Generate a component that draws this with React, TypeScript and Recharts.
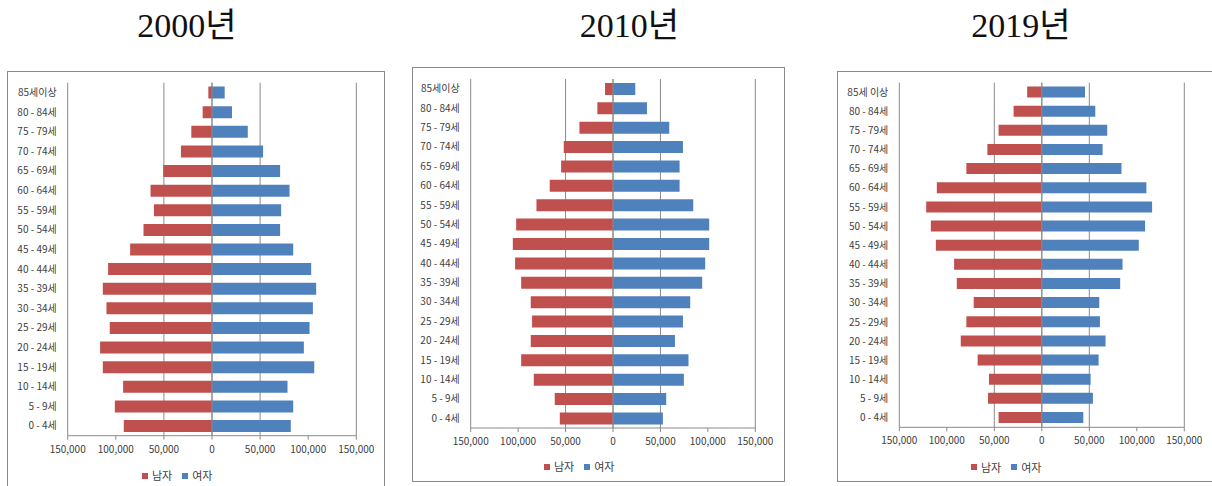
import { Bar, BarChart, CartesianGrid, Legend, ReferenceLine, XAxis, YAxis } from "recharts";

// age groups, top of the pyramid first
const ageGroups = [
  "85세이상", "80 - 84세", "75 - 79세", "70 - 74세", "65 - 69세", "60 - 64세",
  "55 - 59세", "50 - 54세", "45 - 49세", "40 - 44세", "35 - 39세", "30 - 34세",
  "25 - 29세", "20 - 24세", "15 - 19세", "10 - 14세", "5 - 9세", "0 - 4세",
];
const ageGroups2019 = [
  "85세 이상", "80 - 84세", "75 - 79세", "70 - 74세", "65 - 69세", "60 - 64세",
  "55 - 59세", "50 - 54세", "45 - 49세", "40 - 44세", "35 - 39세", "30 - 34세",
  "25 - 29세", "20 - 24세", "15 - 19세", "10 - 14세", "5 - 9세", "0 - 4세",
];

const male2000 = [3800, 9700, 21500, 32300, 50700, 63900, 60400, 71200, 85100, 108000, 113500, 109700, 106300, 116300, 113500, 92400, 101000, 91700];
const female2000 = [13200, 20800, 37200, 53100, 70800, 80600, 71900, 70800, 84400, 103100, 108300, 104900, 101400, 95500, 106300, 78500, 84400, 81900];

const male2010 = [8400, 16500, 35400, 51900, 54700, 66700, 80700, 102100, 105600, 103200, 96800, 86700, 85300, 86700, 96800, 83500, 61400, 56100];
const female2010 = [23500, 35800, 59300, 73700, 70200, 70200, 84600, 101400, 101400, 97200, 94000, 81400, 73700, 65300, 79600, 74700, 56100, 52600];

const male2019 = [15400, 29700, 45500, 57300, 79400, 110500, 121700, 116800, 111500, 92300, 89500, 71700, 79400, 85300, 67500, 55600, 56600, 45500];
const female2019 = [45500, 56300, 68900, 64000, 83900, 110100, 116100, 108700, 102100, 85000, 82500, 60500, 61200, 67100, 59800, 51400, 53800, 43700];

const xTicks = [-150000, -100000, -50000, 0, 50000, 100000, 150000];

const MALE = "#C0504D";
const FEMALE = "#4F81BD";
const GRID = "#8a8a8a";
const TEXT = "#404040";
const FONT = "'Noto Sans CJK KR', 'Noto Sans', sans-serif";
const LEGEND_H = 16;

type Rect = { left: number; top: number; width: number; height: number };
type Plot = { left: number; right: number; top: number; bottom: number };

const buildRows = (labels: string[], male: number[], female: number[]) =>
  labels.map((age, i) => ({ age, male: -male[i], female: female[i] }));

const fmt = (v: number) => Math.abs(v).toLocaleString("en-US");

// plain single-line category label (the default tick wraps at spaces)
const AgeTick = (props: any) => {
  const { x, y, payload } = props;
  return (
    <text x={x} y={y} dy="0.35em" textAnchor="end" fill={TEXT} fontSize={10}>
      {payload.value}
    </text>
  );
};

type PyramidProps = {
  title: string;
  titleX: number;
  box: Rect;
  plot: Plot;
  legendY: number;
  rows: { age: string; male: number; female: number }[];
};

const Pyramid = ({ title, titleX, box, plot, legendY, rows }: PyramidProps) => {
  // chart sits inside a 1px border
  const ix = box.left + 1;
  const iy = box.top + 1;
  const w = box.width - 2;
  const h = box.height - 2;
  const marginBottom = iy + h - (legendY + LEGEND_H / 2);
  const axisH = legendY - LEGEND_H / 2 - plot.bottom;

  return (
    <>
      <div
        style={{
          position: "absolute",
          left: titleX - 150,
          width: 300,
          top: 6,
          lineHeight: "40px",
          textAlign: "center",
          fontFamily: "'Liberation Serif', 'Noto Sans CJK KR', serif",
          fontSize: 34,
          color: "#111",
        }}
      >
        {title}
      </div>
      <div
        style={{
          position: "absolute",
          left: box.left,
          top: box.top,
          width: w,
          height: h,
          border: `1px solid ${GRID}`,
          background: "#fff",
        }}
      >
        <BarChart
          width={w}
          height={h}
          data={rows}
          layout="vertical"
          stackOffset="sign"
          barCategoryGap="20%"
          margin={{
            top: plot.top - iy,
            right: ix + w - plot.right,
            bottom: marginBottom,
            left: 0,
          }}
          style={{ fontFamily: FONT }}
        >
          <CartesianGrid horizontal={false} stroke={GRID} verticalValues={xTicks} />
          <XAxis
            type="number"
            domain={[-150000, 150000]}
            ticks={xTicks}
            tickFormatter={fmt}
            height={axisH}
            stroke={GRID}
            tickSize={4}
            tickMargin={6}
            tick={{ fill: TEXT, fontSize: 10 }}
            allowDataOverflow
          />
          <YAxis
            type="category"
            dataKey="age"
            width={plot.left - ix}
            axisLine={false}
            tickLine={false}
            tickSize={0}
            tickMargin={11}
            interval={0}
            tick={<AgeTick />}
          />
          <ReferenceLine x={0} stroke={GRID} />
          <Bar dataKey="male" name="남자" stackId="p" fill={MALE} isAnimationActive={false} />
          <Bar dataKey="female" name="여자" stackId="p" fill={FEMALE} isAnimationActive={false} />
          <Legend
            verticalAlign="bottom"
            align="center"
            iconType="square"
            iconSize={6}
            formatter={(value) => <span style={{ color: TEXT, fontSize: 11 }}>{value}</span>}
            wrapperStyle={{ lineHeight: `${LEGEND_H}px` }}
          />
        </BarChart>
      </div>
    </>
  );
};

export default function App() {
  return (
    <div
      style={{
        position: "absolute",
        left: 0,
        top: 0,
        width: 1212,
        height: 486,
        overflow: "hidden",
        background: "#fff",
      }}
    >
      <Pyramid
        title="2000년"
        titleX={187}
        box={{ left: 7, top: 71, width: 378, height: 420 }}
        plot={{ left: 67.7, right: 356.3, top: 82.7, bottom: 437.7 }}
        legendY={475}
        rows={buildRows(ageGroups, male2000, female2000)}
      />
      <Pyramid
        title="2010년"
        titleX={629.5}
        box={{ left: 412, top: 67, width: 373, height: 415 }}
        plot={{ left: 470.7, right: 755.3, top: 79, bottom: 430 }}
        legendY={466}
        rows={buildRows(ageGroups, male2010, female2010)}
      />
      <Pyramid
        title="2019년"
        titleX={1021}
        box={{ left: 837, top: 71, width: 382, height: 411 }}
        plot={{ left: 899.3, right: 1184.3, top: 82.7, bottom: 429.3 }}
        legendY={466.7}
        rows={buildRows(ageGroups2019, male2019, female2019)}
      />
    </div>
  );
}
